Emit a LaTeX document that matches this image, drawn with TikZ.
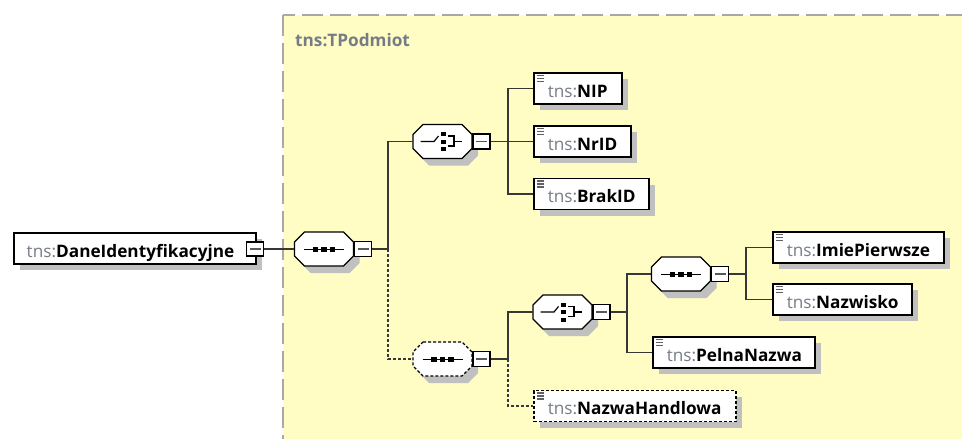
\documentclass[tikz,border=0pt]{standalone}
\usepackage{fontspec}
\setmainfont{Open Sans}
\usetikzlibrary{calc,shadows}
\definecolor{bgyellow}{RGB}{255,252,196}
\definecolor{bgborder}{RGB}{168,168,168}
\definecolor{tnsgray}{RGB}{118,124,134}
\definecolor{shadowgray}{RGB}{192,192,192}
\definecolor{linegray}{RGB}{55,55,55}
\newcommand\elfont{\fontsize{17.2}{20}\selectfont}
\newcommand\tn[3]{\makebox[#1][l]{\hspace*{#2}\textcolor{tnsgray}{tns:}\textbf{#3}}}
\newcommand\octpts[3]{($(#1)+({#2-19.5},{#3-17})$) -- ($(#1)+({#2+19.5},{#3-17})$) -- ($(#1)+({#2+29.5},{#3-7})$) -- ($(#1)+({#2+29.5},{#3+7})$) -- ($(#1)+({#2+19.5},{#3+17})$) -- ($(#1)+({#2-19.5},{#3+17})$) -- ($(#1)+({#2-29.5},{#3+7})$) -- ($(#1)+({#2-29.5},{#3-7})$) -- cycle}
\newcommand\octa[3]{%
  \node[octnode] (#1) at (#2) {};
  \fill[shadowgray] \octpts{#1}{6}{7};
  \draw[fill=white, line width=1.3pt, #3] \octpts{#1}{0}{0};
}
\newcommand\seqicon[1]{%
  \draw[black, line width=1.2pt] ($(#1)+(-20,0.5)$) -- ($(#1)+(20,0.5)$);
  \foreach \dx in {-8.5,0,8.5} \fill[black] ($(#1)+(\dx-2.7,-2)$) rectangle ++(5.4,5);
}
\newcommand\choiceicon[1]{%
  \draw[black, line width=1.2pt] ($(#1)+(-22,0)$) -- ($(#1)+(-8.5,0)$) -- ($(#1)+(-4,-5.5)$);
  \foreach \dy in {-9.5,-2,5.5} \fill[black] ($(#1)+(-1.2,\dy)$) rectangle ++(4.4,4.2);
  \draw[black, line width=1.2pt] ($(#1)+(5,-5.5)$) -- ($(#1)+(11.5,-5.5)$) -- ($(#1)+(11.5,4.5)$) -- ($(#1)+(5,4.5)$);
  \draw[black, line width=1.2pt] ($(#1)+(11.5,0)$) -- ($(#1)+(19,0)$);
}
\tikzset{
  boxbase/.style={draw=black, line width=1.5pt, fill=white, inner sep=0pt,
    minimum height=31pt, text height=18pt, text depth=0.5pt, anchor=west, font=\elfont,
    general shadow={fill=shadowgray, shadow xshift=6pt, shadow yshift=-6pt}},
  elem/.style={boxbase,
    path picture={\foreach \k in {2.5,5.5,8.5}{\draw[gray!75!black, line width=1.3pt, solid]
      ([xshift=3pt,yshift=-\k pt]path picture bounding box.north west) -- ++(7pt,0);}}},
  optelem/.style={elem, dash pattern=on 3pt off 2pt},
  minusbox/.style={draw=black, line width=1.4pt, fill=white, minimum width=17pt,
    minimum height=15pt, inner sep=0pt,
    path picture={\draw[gray!70!black, line width=1.1pt] ([xshift=3pt]path picture bounding box.west)
      -- ([xshift=-3pt]path picture bounding box.east);}},
  octnode/.style={inner sep=0pt, minimum width=59pt, minimum height=34pt},
  conn/.style={draw=linegray, line width=1.4pt},
  optconn/.style={conn, dash pattern=on 3pt off 2pt},
}
\begin{document}
\begin{tikzpicture}[x=1pt,y=-1pt]
\useasboundingbox (0,0) rectangle (962,439);
\clip (0,0) rectangle (962,439);
\fill[white] (0,0) rectangle (962,439);
\draw[bgborder, line width=1.6pt, dash pattern=on 21pt off 7pt, fill=bgyellow] (283,15) rectangle (1000,480);
\node[anchor=base west, font=\elfont\bfseries, text=tnsgray, inner sep=0pt] (tp) at (295,46.5) {tns:TPodmiot};

% root
\node[boxbase] (root) at (13,248.5) {\tn{242pt}{13pt}{DaneIdentyfikacyjne}};
\node[minusbox, minimum height=14pt] (rootm) at (255,249) {};

% sequence 1
\octa{seq1}{324,249}{}
\seqicon{seq1}
\node[minusbox] (seq1m) at (363,249) {};

% choice 1
\octa{ch1}{442.5,141.5}{}
\choiceicon{ch1}
\node[minusbox] (ch1m) at (481.5,141.5) {};

\node[elem] (nip) at (533,88.5) {\tn{88pt}{14pt}{NIP}};
\node[elem] (nrid) at (533,141.5) {\tn{97pt}{14pt}{NrID}};
\node[elem] (brak) at (533,194) {\tn{115pt}{14pt}{BrakID}};

% sequence 2 (optional)
\octa{seq2}{442.5,359}{dash pattern=on 3pt off 2pt}
\seqicon{seq2}
\node[minusbox] (seq2m) at (481.5,359) {};

% choice 2
\octa{ch2}{562.5,312}{}
\choiceicon{ch2}
\node[minusbox] (ch2m) at (601.5,312) {};

\node[optelem] (nazwah) at (533,406) {\tn{202pt}{14pt}{NazwaHandlowa}};

% sequence 3
\octa{seq3}{681,274}{}
\seqicon{seq3}
\node[minusbox] (seq3m) at (720,274) {};

\node[elem] (pelna) at (652,352.5) {\tn{162pt}{14pt}{PelnaNazwa}};
\node[elem] (imie) at (772,247.5) {\tn{171pt}{14pt}{ImiePierwsze}};
\node[elem] (nazw) at (772,299.5) {\tn{139pt}{14pt}{Nazwisko}};

% bus points
\coordinate (b1) at (388,249);
\coordinate (b2) at (508,141.5);
\coordinate (b3) at (508,359);
\coordinate (b4) at (627,312);
\coordinate (b5) at (746,274);

% connectors
\draw[conn] (rootm.east) -- (seq1.west);
\draw[conn] (seq1m.east) -- (b1);
\draw[conn] (b1) |- (ch1.west);
\draw[optconn] (b1) |- (seq2.west);
\draw[conn] (ch1m.east) -- (b2);
\draw[conn] (b2) |- (nip.west);
\draw[conn] (b2) -- (nrid.west);
\draw[conn] (b2) |- (brak.west);
\draw[conn] (seq2m.east) -- (b3);
\draw[conn] (b3) |- (ch2.west);
\draw[optconn] (b3) |- (nazwah.west);
\draw[conn] (ch2m.east) -- (b4);
\draw[conn] (b4) |- (seq3.west);
\draw[conn] (b4) |- (pelna.west);
\draw[conn] (seq3m.east) -- (b5);
\draw[conn] (b5) |- (imie.west);
\draw[conn] (b5) |- (nazw.west);
\end{tikzpicture}
\end{document}
